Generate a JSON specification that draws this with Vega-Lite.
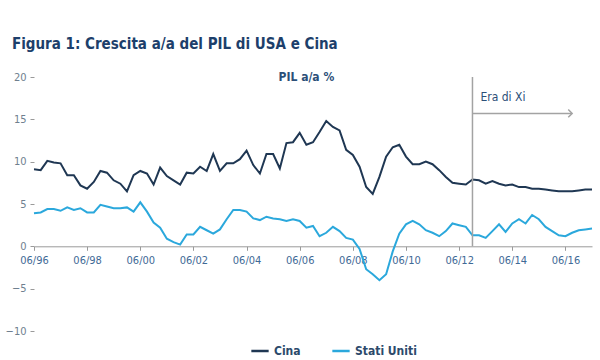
{
  "$schema": "https://vega.github.io/schema/vega-lite/v6.json",
  "width": 558,
  "height": 254,
  "autosize": {"type": "none"},
  "padding": {"left": 34, "top": 77, "right": 8, "bottom": 29},
  "background": "white",
  "config": {
    "font": "Liberation Sans Narrow, DejaVu Sans Condensed, Roboto, sans-serif",
    "view": {"stroke": null}
  },
  "title": {
    "text": "Figura 1: Crescita a/a del PIL di USA e Cina",
    "anchor": "start",
    "frame": "group",
    "dx": -22,
    "fontSize": 15,
    "fontWeight": "bold",
    "color": "#1d3f6b",
    "offset": 19
  },
  "datasets": {
    "gdp": [
      {"d": "1996-06-01", "Cina": 9.1, "Stati Uniti": 3.9},
      {"d": "1996-09-01", "Cina": 9.0, "Stati Uniti": 4.0},
      {"d": "1996-12-01", "Cina": 10.1, "Stati Uniti": 4.4},
      {"d": "1997-03-01", "Cina": 9.9, "Stati Uniti": 4.4},
      {"d": "1997-06-01", "Cina": 9.8, "Stati Uniti": 4.2},
      {"d": "1997-09-01", "Cina": 8.4, "Stati Uniti": 4.6},
      {"d": "1997-12-01", "Cina": 8.4, "Stati Uniti": 4.3},
      {"d": "1998-03-01", "Cina": 7.2, "Stati Uniti": 4.5},
      {"d": "1998-06-01", "Cina": 6.8, "Stati Uniti": 4.0},
      {"d": "1998-09-01", "Cina": 7.6, "Stati Uniti": 4.0},
      {"d": "1998-12-01", "Cina": 8.9, "Stati Uniti": 4.9},
      {"d": "1999-03-01", "Cina": 8.7, "Stati Uniti": 4.7},
      {"d": "1999-06-01", "Cina": 7.8, "Stati Uniti": 4.5},
      {"d": "1999-09-01", "Cina": 7.4, "Stati Uniti": 4.5},
      {"d": "1999-12-01", "Cina": 6.5, "Stati Uniti": 4.6},
      {"d": "2000-03-01", "Cina": 8.4, "Stati Uniti": 4.1},
      {"d": "2000-06-01", "Cina": 8.9, "Stati Uniti": 5.2},
      {"d": "2000-09-01", "Cina": 8.6, "Stati Uniti": 4.1},
      {"d": "2000-12-01", "Cina": 7.3, "Stati Uniti": 2.8},
      {"d": "2001-03-01", "Cina": 9.3, "Stati Uniti": 2.2},
      {"d": "2001-06-01", "Cina": 8.3, "Stati Uniti": 0.9},
      {"d": "2001-09-01", "Cina": 7.8, "Stati Uniti": 0.5},
      {"d": "2001-12-01", "Cina": 7.3, "Stati Uniti": 0.2},
      {"d": "2002-03-01", "Cina": 8.7, "Stati Uniti": 1.4},
      {"d": "2002-06-01", "Cina": 8.6, "Stati Uniti": 1.4},
      {"d": "2002-09-01", "Cina": 9.4, "Stati Uniti": 2.3},
      {"d": "2002-12-01", "Cina": 8.9, "Stati Uniti": 1.9},
      {"d": "2003-03-01", "Cina": 10.9, "Stati Uniti": 1.5},
      {"d": "2003-06-01", "Cina": 8.9, "Stati Uniti": 2.0},
      {"d": "2003-09-01", "Cina": 9.8, "Stati Uniti": 3.2},
      {"d": "2003-12-01", "Cina": 9.8, "Stati Uniti": 4.3},
      {"d": "2004-03-01", "Cina": 10.3, "Stati Uniti": 4.3},
      {"d": "2004-06-01", "Cina": 11.3, "Stati Uniti": 4.1},
      {"d": "2004-09-01", "Cina": 9.6, "Stati Uniti": 3.3},
      {"d": "2004-12-01", "Cina": 8.6, "Stati Uniti": 3.1},
      {"d": "2005-03-01", "Cina": 10.9, "Stati Uniti": 3.5},
      {"d": "2005-06-01", "Cina": 10.9, "Stati Uniti": 3.3},
      {"d": "2005-09-01", "Cina": 9.2, "Stati Uniti": 3.2},
      {"d": "2005-12-01", "Cina": 12.2, "Stati Uniti": 3.0},
      {"d": "2006-03-01", "Cina": 12.3, "Stati Uniti": 3.2},
      {"d": "2006-06-01", "Cina": 13.4, "Stati Uniti": 3.0},
      {"d": "2006-09-01", "Cina": 12.0, "Stati Uniti": 2.2},
      {"d": "2006-12-01", "Cina": 12.3, "Stati Uniti": 2.4},
      {"d": "2007-03-01", "Cina": 13.5, "Stati Uniti": 1.2},
      {"d": "2007-06-01", "Cina": 14.8, "Stati Uniti": 1.6},
      {"d": "2007-09-01", "Cina": 14.1, "Stati Uniti": 2.3},
      {"d": "2007-12-01", "Cina": 13.7, "Stati Uniti": 1.8},
      {"d": "2008-03-01", "Cina": 11.4, "Stati Uniti": 1.0},
      {"d": "2008-06-01", "Cina": 10.8, "Stati Uniti": 0.8},
      {"d": "2008-09-01", "Cina": 9.4, "Stati Uniti": -0.3},
      {"d": "2008-12-01", "Cina": 7.0, "Stati Uniti": -2.7},
      {"d": "2009-03-01", "Cina": 6.2, "Stati Uniti": -3.3},
      {"d": "2009-06-01", "Cina": 8.2, "Stati Uniti": -4.0},
      {"d": "2009-09-01", "Cina": 10.6, "Stati Uniti": -3.3},
      {"d": "2009-12-01", "Cina": 11.7, "Stati Uniti": -0.6},
      {"d": "2010-03-01", "Cina": 12.0, "Stati Uniti": 1.5},
      {"d": "2010-06-01", "Cina": 10.6, "Stati Uniti": 2.6},
      {"d": "2010-09-01", "Cina": 9.7, "Stati Uniti": 3.0},
      {"d": "2010-12-01", "Cina": 9.7, "Stati Uniti": 2.6},
      {"d": "2011-03-01", "Cina": 10.0, "Stati Uniti": 1.9},
      {"d": "2011-06-01", "Cina": 9.7, "Stati Uniti": 1.6},
      {"d": "2011-09-01", "Cina": 9.0, "Stati Uniti": 1.2},
      {"d": "2011-12-01", "Cina": 8.2, "Stati Uniti": 1.8},
      {"d": "2012-03-01", "Cina": 7.5, "Stati Uniti": 2.7},
      {"d": "2012-06-01", "Cina": 7.4, "Stati Uniti": 2.5},
      {"d": "2012-09-01", "Cina": 7.3, "Stati Uniti": 2.3},
      {"d": "2012-12-01", "Cina": 7.9, "Stati Uniti": 1.3},
      {"d": "2013-03-01", "Cina": 7.8, "Stati Uniti": 1.3},
      {"d": "2013-06-01", "Cina": 7.4, "Stati Uniti": 1.0},
      {"d": "2013-09-01", "Cina": 7.7, "Stati Uniti": 1.8},
      {"d": "2013-12-01", "Cina": 7.4, "Stati Uniti": 2.6},
      {"d": "2014-03-01", "Cina": 7.2, "Stati Uniti": 1.7},
      {"d": "2014-06-01", "Cina": 7.3, "Stati Uniti": 2.7},
      {"d": "2014-09-01", "Cina": 7.0, "Stati Uniti": 3.2},
      {"d": "2014-12-01", "Cina": 7.0, "Stati Uniti": 2.7},
      {"d": "2015-03-01", "Cina": 6.8, "Stati Uniti": 3.7},
      {"d": "2015-06-01", "Cina": 6.8, "Stati Uniti": 3.2},
      {"d": "2015-09-01", "Cina": 6.7, "Stati Uniti": 2.3},
      {"d": "2015-12-01", "Cina": 6.6, "Stati Uniti": 1.8},
      {"d": "2016-03-01", "Cina": 6.5, "Stati Uniti": 1.3},
      {"d": "2016-06-01", "Cina": 6.5, "Stati Uniti": 1.2},
      {"d": "2016-09-01", "Cina": 6.5, "Stati Uniti": 1.6},
      {"d": "2016-12-01", "Cina": 6.6, "Stati Uniti": 1.9},
      {"d": "2017-03-01", "Cina": 6.7, "Stati Uniti": 2.0},
      {"d": "2017-06-01", "Cina": 6.7, "Stati Uniti": 2.1}
    ],
    "vline": [{"d": "2012-12-01", "top": 20, "bottom": 0}],
    "arrow": [{"d": "2012-12-01", "d2": "2016-09-01", "v": 15.7}],
    "xi": [{"d": "2013-03-20", "v": 17.6, "t": "Era di Xi"}],
    "head": [{"d": "2006-09-01", "v": 20, "t": "PIL a/a %"}]
  },
  "layer": [
    {
      "data": {"name": "gdp"},
      "transform": [{"fold": ["Cina", "Stati Uniti"], "as": ["serie", "valore"]}],
      "mark": {"type": "line", "strokeWidth": 2},
      "encoding": {
        "x": {
          "field": "d",
          "type": "temporal",
          "scale": {"type": "utc", "domain": ["1996-06-01", "2017-06-01"], "nice": false},
          "axis": {
            "title": null,
            "labelExpr": "utcFormat(datum.value, '%m/%y')",
            "values": ["1996-06-01", "1998-06-01", "2000-06-01", "2002-06-01", "2004-06-01", "2006-06-01", "2008-06-01", "2010-06-01", "2012-06-01", "2014-06-01", "2016-06-01"],
            "offset": -84.7,
            "domainColor": "#9a9a9a",
            "tickColor": "#9a9a9a",
            "tickSize": 4,
            "labelColor": "#3f6a96",
            "labelFontSize": 11,
            "labelPadding": 4,
            "labelFlush": false,
            "grid": false
          }
        },
        "y": {
          "field": "valore",
          "type": "quantitative",
          "scale": {"domain": [-10, 20], "nice": false, "zero": false},
          "axis": {
            "title": null,
            "values": [-10, -5, 0, 5, 10, 15, 20],
            "domain": false,
            "grid": false,
            "tickColor": "#9a9a9a",
            "tickSize": 4,
            "labelColor": "#6f7f8f",
            "labelFontSize": 11,
            "labelPadding": 4
          }
        },
        "color": {
          "field": "serie",
          "type": "nominal",
          "scale": {"domain": ["Cina", "Stati Uniti"], "range": ["#1f3753", "#2ba8dc"]},
          "legend": {
            "title": null,
            "orient": "none",
            "legendX": 216,
            "legendY": 264,
            "direction": "horizontal",
            "symbolType": "stroke",
            "symbolStrokeWidth": 2.5,
            "symbolSize": 300,
            "labelColor": "#2c4a6b",
            "labelFontSize": 12,
            "labelFontWeight": "bold",
            "columnPadding": 26
          }
        }
      }
    },
    {
      "data": {"name": "vline"},
      "mark": {"type": "rule", "color": "#a3a3a3", "strokeWidth": 1.5},
      "encoding": {
        "x": {"field": "d", "type": "temporal"},
        "y": {"field": "top", "type": "quantitative"},
        "y2": {"field": "bottom"}
      }
    },
    {
      "data": {"name": "arrow"},
      "mark": {"type": "rule", "color": "#a3a3a3", "strokeWidth": 1.5},
      "encoding": {
        "x": {"field": "d", "type": "temporal"},
        "x2": {"field": "d2"},
        "y": {"field": "v", "type": "quantitative"}
      }
    },
    {
      "data": {"name": "arrow"},
      "mark": {"type": "point", "shape": "M -1 -1 L 0 0 L -1 1", "filled": false, "color": "#a3a3a3", "strokeWidth": 1.5, "size": 60, "opacity": 1},
      "encoding": {
        "x": {"field": "d2", "type": "temporal"},
        "y": {"field": "v", "type": "quantitative"}
      }
    },
    {
      "data": {"name": "xi"},
      "mark": {"type": "text", "align": "left", "baseline": "middle", "fontSize": 12, "color": "#2c4f78"},
      "encoding": {
        "x": {"field": "d", "type": "temporal"},
        "y": {"field": "v", "type": "quantitative"},
        "text": {"field": "t"}
      }
    },
    {
      "data": {"name": "head"},
      "mark": {"type": "text", "align": "center", "baseline": "middle", "fontSize": 12, "fontWeight": "bold", "color": "#2c4f78"},
      "encoding": {
        "x": {"field": "d", "type": "temporal"},
        "y": {"field": "v", "type": "quantitative"},
        "text": {"field": "t"}
      }
    }
  ]
}
